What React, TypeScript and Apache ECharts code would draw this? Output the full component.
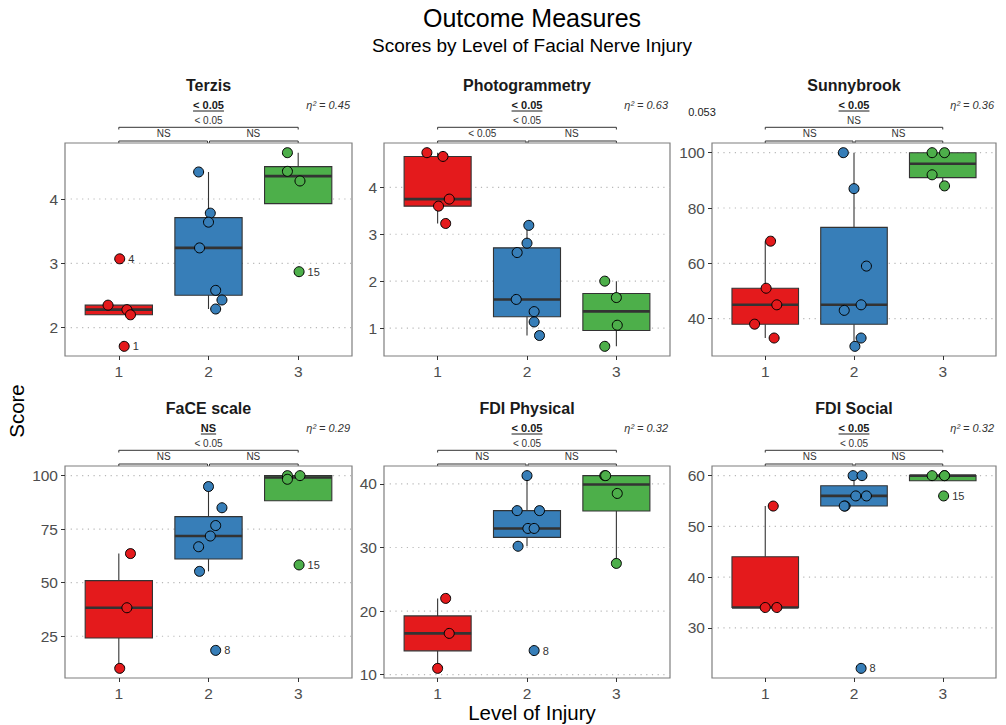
import React, { useEffect, useRef } from "react";
import * as echarts from "echarts";

// ---------- data ----------
const categories = ["1", "2", "3"];
const panelTitles = ["Terzis", "Photogrammetry", "Sunnybrook", "FaCE scale", "FDI Physical", "FDI Social"];
const overallP = ["< 0.05", "< 0.05", "< 0.05", "NS", "< 0.05", "< 0.05"];
const etaSq = ["0.45", "0.63", "0.36", "0.29", "0.32", "0.32"];
const p13 = ["< 0.05", "< 0.05", "NS", "< 0.05", "< 0.05", "< 0.05"];
const p12 = ["NS", "< 0.05", "NS", "NS", "NS", "NS"];
const p23 = ["NS", "NS", "NS", "NS", "NS", "NS"];
const yTicks = [[2, 3, 4], [1, 2, 3, 4], [40, 60, 80, 100], [25, 50, 75, 100], [10, 20, 30, 40], [30, 40, 50, 60]];

const terzisY = [[2.35, 2.28, 2.2, 3.07, 1.71], [4.42, 3.78, 3.64, 3.24, 2.58, 2.43, 2.29], [4.72, 4.43, 4.28, 2.87]];
const terzisX = [[0.88, 1.09, 1.13, 1.01, 1.06], [1.89, 2.02, 2.0, 1.9, 2.08, 2.15, 2.08], [2.88, 2.88, 3.02, 3.01]];
const terzisLab = [["", "", "", "4", "1"], ["", "", "", "", "", "", ""], ["", "", "", "15"]];

const photoY = [[4.74, 4.66, 3.75, 3.6, 3.23], [3.19, 2.81, 2.61, 1.61, 1.35, 1.13, 0.84], [2.0, 1.65, 1.06, 0.61]];
const photoX = [[0.88, 1.06, 1.13, 1.01, 1.09], [2.02, 2.0, 1.89, 1.88, 2.08, 2.08, 2.14], [2.87, 3.0, 3.01, 2.87]];
const photoLab = [["", "", "", "", ""], ["", "", "", "", "", "", ""], ["", "", "", ""]];

const sunnyY = [[68, 51, 45, 38, 33], [100, 87, 59, 45, 43, 33, 30], [100, 100, 92, 88]];
const sunnyX = [[1.06, 1.01, 1.13, 0.88, 1.1], [1.88, 2.0, 2.14, 2.08, 1.89, 2.08, 2.01], [2.88, 3.02, 2.88, 3.02]];
const sunnyLab = [["", "", "", "", ""], ["", "", "", "", "", "", ""], ["", "", "", ""]];

const faceY = [[63.6, 38.3, 10], [94.9, 85, 76.7, 71.8, 66.8, 55.3, 18.4], [100, 98.3, 100, 58.3]];
const faceX = [[1.13, 1.09, 1.01], [2.0, 2.15, 2.08, 2.02, 1.89, 1.9, 2.08], [2.88, 2.88, 3.02, 3.01]];
const faceLab = [["", "", ""], ["", "", "", "", "", "", "8"], ["", "", "", "15"]];

const physY = [[22, 16.5, 11], [41.3, 35.8, 35.8, 33.0, 33.0, 30.2, 13.8], [41.3, 41.3, 38.5, 27.5]];
const physX = [[1.09, 1.13, 1.0], [2.0, 1.89, 2.14, 2.01, 2.08, 1.9, 2.08], [2.87, 2.88, 3.01, 3.0]];
const physLab = [["", "", ""], ["", "", "", "", "", "", "8"], ["", "", "", ""]];

const socialY = [[54, 34, 34], [60, 60, 56, 56, 54, 54, 22], [60, 60, 60, 56]];
const socialX = [[1.09, 1.0, 1.13], [1.99, 2.09, 2.02, 2.14, 1.9, 1.89, 2.08], [2.88, 3.02, 3.02, 3.01]];
const socialLab = [["", "", ""], ["", "", "", "", "", "", "8"], ["", "", "", "15"]];

const panelY = [terzisY, photoY, sunnyY, faceY, physY, socialY];
const panelX = [terzisX, photoX, sunnyX, faceX, physX, socialX];
const panelLab = [terzisLab, photoLab, sunnyLab, faceLab, physLab, socialLab];

// ---------- style / layout ----------
const FONT = '"Liberation Sans", Arial, Helvetica, sans-serif';
const COLORS = ["#E41A1C", "#377EB8", "#4DAF4A"];
const colLeft = [65, 384, 712];
const colWidth = [287, 286, 284];
const rowTop = [143, 466];
const rowHeight = [213, 212];
const X_MIN = 0.4;
const X_MAX = 3.6;

function quantile(s: number[], p: number) {
  const h = (s.length - 1) * p;
  const lo = Math.floor(h);
  const hi = Math.ceil(h);
  return s[lo] + (h - lo) * (s[hi] - s[lo]);
}
function boxStats(vals: number[]) {
  const s = [...vals].sort((a, b) => a - b);
  const q1 = quantile(s, 0.25);
  const med = quantile(s, 0.5);
  const q3 = quantile(s, 0.75);
  const iqr = q3 - q1;
  const lo = s.find((v) => v >= q1 - 1.5 * iqr - 1e-9) as number;
  const hi = [...s].reverse().find((v) => v <= q3 + 1.5 * iqr + 1e-9) as number;
  return [lo, q1, med, q3, hi];
}

let measureCtx: CanvasRenderingContext2D | null = null;
function textWidth(text: string, font: string) {
  if (!measureCtx) measureCtx = document.createElement("canvas").getContext("2d");
  if (!measureCtx) return text.length * 6;
  measureCtx.font = font;
  return measureCtx.measureText(text).width;
}

function txt(x: number, y: number, text: string, o: any = {}) {
  return {
    type: "text",
    x,
    y,
    silent: true,
    rotation: o.rotation || 0,
    style: {
      text,
      fill: o.fill || "#1a1a1a",
      fontSize: o.fontSize || 11,
      fontWeight: o.fontWeight || "normal",
      fontStyle: o.fontStyle || "normal",
      fontFamily: FONT,
      align: o.align || "center",
      verticalAlign: "middle",
      textAlign: o.align || "center",
      textVerticalAlign: "middle",
    },
  };
}
function pl(points: number[][]) {
  return {
    type: "polyline",
    silent: true,
    shape: { points },
    style: { stroke: "#333333", lineWidth: 1, fill: null },
  };
}

function buildOption() {
  const grid: any[] = [];
  const xAxis: any[] = [];
  const yAxis: any[] = [];
  const series: any[] = [];
  const graphic: any[] = [];

  for (let i = 0; i < 6; i++) {
    const col = i % 3;
    const row = Math.floor(i / 3);
    const L = colLeft[col];
    const W = colWidth[col];
    const T = rowTop[row];
    const H = rowHeight[row];
    grid.push({
      left: L,
      top: T,
      width: W,
      height: H,
      show: true,
      borderColor: "#7f7f7f",
      borderWidth: 1.2,
      backgroundColor: "transparent",
    });
    const allY = panelY[i].flat();
    const dMin = Math.min(...allY);
    const dMax = Math.max(...allY);
    const pad = (dMax - dMin) * 0.05;
    xAxis.push({
      type: "value",
      gridIndex: i,
      min: X_MIN,
      max: X_MAX,
      axisLine: { show: false },
      splitLine: { show: false },
      axisTick: { show: true, customValues: [1, 2, 3], length: 4, lineStyle: { color: "#333333" } },
      axisLabel: {
        customValues: [1, 2, 3],
        formatter: (v: number) => categories[Math.round(v) - 1],
        fontSize: 15.5,
        color: "#4d4d4d",
        fontFamily: FONT,
        margin: 7,
      },
    });
    yAxis.push({
      type: "value",
      gridIndex: i,
      min: dMin - pad,
      max: dMax + pad,
      axisLine: { show: false },
      splitLine: { show: false },
      axisTick: { show: true, customValues: yTicks[i], length: 4, lineStyle: { color: "#333333" } },
      axisLabel: {
        customValues: yTicks[i],
        fontSize: 15.5,
        color: "#4d4d4d",
        fontFamily: FONT,
        margin: 7,
      },
    });

    // gridlines
    series.push({
      type: "custom",
      xAxisIndex: i,
      yAxisIndex: i,
      z: 1,
      silent: true,
      data: yTicks[i].map((v) => [2, v]),
      renderItem: (_p: any, api: any) => {
        const a = api.coord([X_MIN, api.value(1)]);
        const b = api.coord([X_MAX, api.value(1)]);
        return {
          type: "line",
          shape: { x1: a[0], y1: a[1], x2: b[0], y2: b[1] },
          style: { stroke: "#b8b8b8", lineWidth: 1.2, lineDash: [1.2, 4.5] },
        };
      },
    });

    // boxes
    series.push({
      type: "custom",
      xAxisIndex: i,
      yAxisIndex: i,
      z: 2,
      silent: true,
      data: panelY[i].map((vals, g) => [g + 1, ...boxStats(vals), g]),
      renderItem: (_p: any, api: any) => {
        const x = api.value(0);
        const lo = api.value(1);
        const q1 = api.value(2);
        const med = api.value(3);
        const q3 = api.value(4);
        const hi = api.value(5);
        const g = api.value(6);
        const half = 0.375;
        const pLo = api.coord([x, lo]);
        const pQ1 = api.coord([x, q1]);
        const pQ3 = api.coord([x, q3]);
        const pHi = api.coord([x, hi]);
        const tl = api.coord([x - half, q3]);
        const br = api.coord([x + half, q1]);
        const mL = api.coord([x - half, med]);
        const mR = api.coord([x + half, med]);
        const ws = { stroke: "#333333", lineWidth: 1.1 };
        return {
          type: "group",
          children: [
            { type: "line", shape: { x1: pLo[0], y1: pLo[1], x2: pQ1[0], y2: pQ1[1] }, style: ws },
            { type: "line", shape: { x1: pQ3[0], y1: pQ3[1], x2: pHi[0], y2: pHi[1] }, style: ws },
            {
              type: "rect",
              shape: { x: tl[0], y: tl[1], width: br[0] - tl[0], height: br[1] - tl[1] },
              style: { fill: COLORS[g], stroke: "#333333", lineWidth: 1.1 },
            },
            {
              type: "line",
              shape: { x1: mL[0], y1: mL[1], x2: mR[0], y2: mR[1] },
              style: { stroke: "#333333", lineWidth: 2.6 },
            },
          ],
        };
      },
    });

    // points
    const pts: any[] = [];
    panelY[i].forEach((vals, g) => {
      vals.forEach((v, k) => {
        const lab = panelLab[i][g][k];
        pts.push({
          value: [panelX[i][g][k], v, lab],
          itemStyle: { color: COLORS[g] },
          label: { show: lab !== "" },
        });
      });
    });
    series.push({
      type: "scatter",
      xAxisIndex: i,
      yAxisIndex: i,
      z: 3,
      symbolSize: 10,
      itemStyle: { borderColor: "#000000", borderWidth: 1, opacity: 1 },
      label: {
        show: false,
        position: "right",
        distance: 3,
        formatter: (p: any) => p.value[2],
        fontSize: 11,
        color: "#333333",
        fontFamily: FONT,
      },
      data: pts,
    });

    // header annotations
    const cx = L + W / 2;
    const cp = (c: number) => L + ((c - X_MIN) / (X_MAX - X_MIN)) * W;
    const c1 = cp(1);
    const c2 = cp(2);
    const c3 = cp(3);
    graphic.push(txt(cx, T - 58, panelTitles[i], { fontSize: 16, fontWeight: "bold" }));
    graphic.push(txt(cx, T - 38, overallP[i], { fontSize: 11, fontWeight: "bold" }));
    const uw = textWidth(overallP[i], `bold 11px ${FONT}`);
    graphic.push({
      type: "line",
      silent: true,
      shape: { x1: cx - uw / 2, y1: T - 32, x2: cx + uw / 2, y2: T - 32 },
      style: { stroke: "#1a1a1a", lineWidth: 1 },
    });
    graphic.push(txt(L + W - 2, T - 38, "η² = " + etaSq[i], { fontSize: 11, fontStyle: "italic", align: "right", fill: "#333333" }));
    graphic.push(txt(cx, T - 22.5, p13[i], { fontSize: 10, fill: "#333333" }));
    graphic.push(pl([[c1, T - 13.5], [c1, T - 15.7], [c3, T - 15.7], [c3, T - 13.5]]));
    graphic.push(txt((c1 + c2) / 2, T - 9.3, p12[i], { fontSize: 10, fill: "#333333" }));
    graphic.push(txt((c2 + c3) / 2, T - 9.3, p23[i], { fontSize: 10, fill: "#333333" }));
    graphic.push(pl([[c1, T - 0.2], [c1, T - 2], [c2 - 1, T - 2], [c2 - 1, T - 0.2]]));
    graphic.push(pl([[c2 + 1, T - 0.2], [c2 + 1, T - 2], [c3, T - 2], [c3, T - 0.2]]));
  }

  // stray annotation in the Sunnybrook panel
  graphic.push(txt(702, 112, "0.053", { fontSize: 11, fill: "#1a1a1a" }));
  // axis titles
  graphic.push(txt(16, 411, "Score", { fontSize: 20.5, rotation: Math.PI / 2, fill: "#000000" }));
  graphic.push(txt(532, 712, "Level of Injury", { fontSize: 20.5, fill: "#000000" }));

  return {
    animation: false,
    backgroundColor: "#ffffff",
    title: [
      {
        text: "Outcome Measures",
        left: 532,
        top: 5,
        padding: 0,
        textAlign: "center",
        textStyle: { fontSize: 25, fontWeight: "normal", color: "#000000", fontFamily: FONT },
      },
      {
        text: "Scores by Level of Facial Nerve Injury",
        left: 532,
        top: 36,
        padding: 0,
        textAlign: "center",
        textStyle: { fontSize: 19, fontWeight: "normal", color: "#000000", fontFamily: FONT },
      },
    ],
    grid,
    xAxis,
    yAxis,
    series,
    graphic,
  };
}

export default function App() {
  const ref = useRef<HTMLDivElement>(null);
  useEffect(() => {
    if (!ref.current) return;
    const chart = echarts.init(ref.current, undefined, { renderer: "svg" });
    chart.setOption(buildOption() as any);
    return () => chart.dispose();
  }, []);
  return (
    <div
      ref={ref}
      style={{ position: "absolute", left: 0, top: 0, width: 1006, height: 725, background: "#fff" }}
    />
  );
}
